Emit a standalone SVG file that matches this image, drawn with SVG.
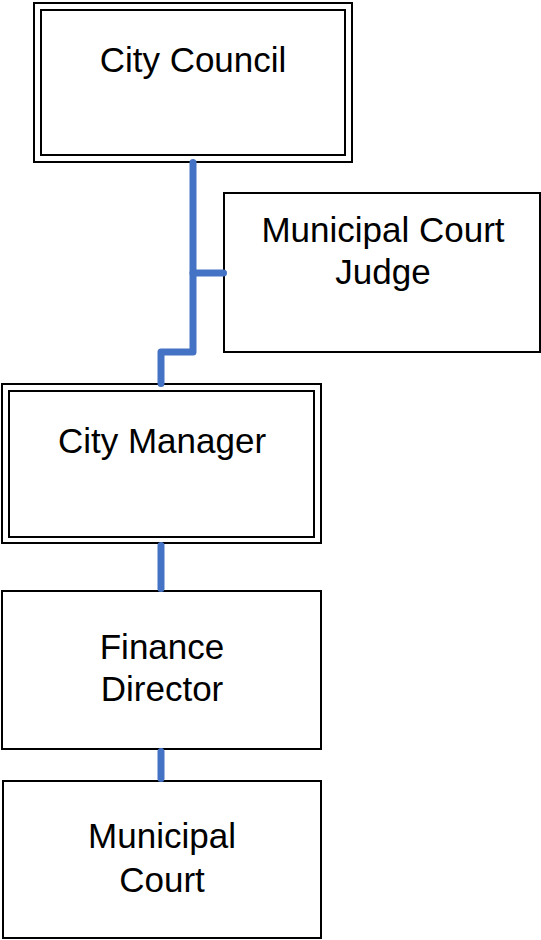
<svg xmlns="http://www.w3.org/2000/svg" width="541" height="940" viewBox="0 0 541 940">
  <style>
    .box { fill: #ffffff; stroke: #000000; stroke-width: 2; }
    .inner { fill: none; stroke: #000000; stroke-width: 2; }
    .label { font-family: "Liberation Sans", Arial, sans-serif; font-size: 35px; fill: #000000; text-anchor: middle; }
    .link { fill: none; stroke: #4472C4; stroke-width: 7; stroke-linecap: round; stroke-linejoin: round; }
  </style>
  <rect width="541" height="940" fill="#ffffff"/>

  <g id="city-council">
    <rect class="box" x="34" y="3" width="318" height="159"/>
    <rect class="inner" x="41" y="10" width="304" height="145"/>
    <text class="label" x="193" y="72">City Council</text>
  </g>

  <g id="municipal-court-judge">
    <rect class="box" x="224" y="193" width="316" height="159"/>
    <text class="label" x="383" y="242">Municipal Court</text>
    <text class="label" x="383" y="284">Judge</text>
  </g>

  <g id="city-manager">
    <rect class="box" x="2" y="384" width="319" height="159"/>
    <rect class="inner" x="9" y="391" width="305" height="146"/>
    <text class="label" x="162" y="453">City Manager</text>
  </g>

  <g id="finance-director">
    <rect class="box" x="2" y="591" width="319" height="158"/>
    <text class="label" x="162" y="659">Finance</text>
    <text class="label" x="162" y="701">Director</text>
  </g>

  <g id="municipal-court">
    <rect class="box" x="3" y="781" width="318" height="157"/>
    <text class="label" x="162" y="848">Municipal</text>
    <text class="label" x="162" y="892">Court</text>
  </g>

  <!-- reporting lines, drawn over the box borders -->
  <g id="connectors">
    <path class="link" d="M193 162.5 V352 H161 V383.5"/>
    <path class="link" d="M193 273 H223.5"/>
    <path class="link" d="M161 545.5 V588.5"/>
    <path class="link" d="M161 751.5 V778.5"/>
  </g>
</svg>
